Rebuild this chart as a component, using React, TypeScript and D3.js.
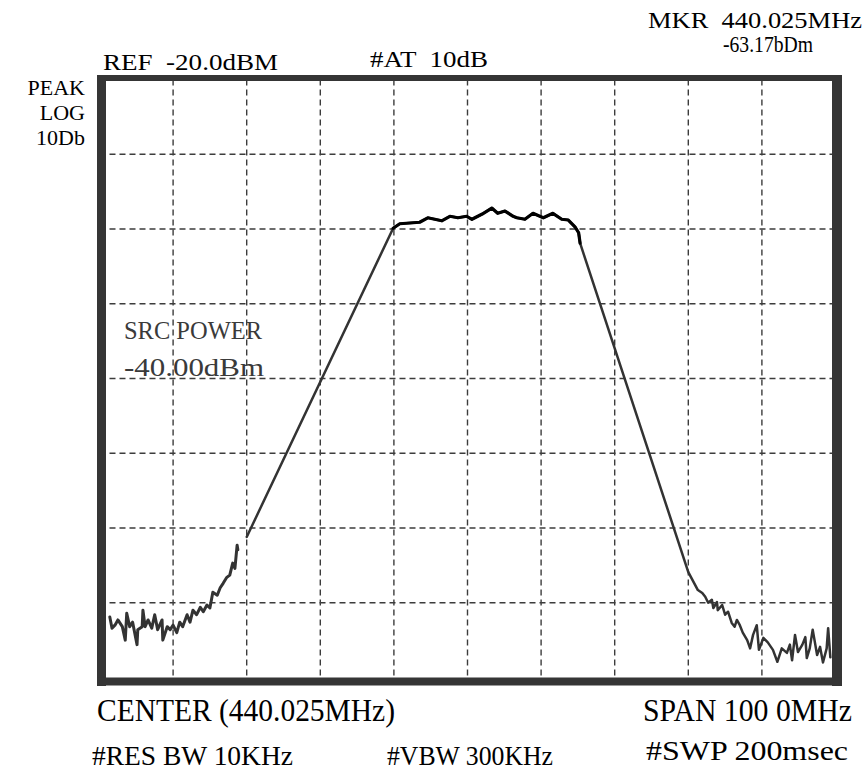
import React from "react";
import * as d3 from "d3";

// spectrum analyser screen: offset from centre (MHz) vs level (dBm)
const leftNoiseFreq = [-48.6, -48.3, -47.9, -47.5, -46.9, -46.5, -46.3, -45.9, -45.5, -44.9, -44.8, -44.2, -44.1, -43.8, -43.4, -42.9, -42.5, -42.1, -41.5, -41.4, -40.8, -40.4, -40.0, -39.5, -39.1, -38.7, -38.1, -37.7, -37.3, -36.8, -36.3, -35.9, -35.4, -35.0, -34.6, -34.0, -33.6, -33.2, -32.7, -32.3, -31.9, -31.6, -31.3, -31.2];
const leftNoiseLevel = [-91.9, -93.4, -93.0, -92.3, -93.2, -95.0, -91.4, -93.2, -92.6, -95.6, -93.6, -93.2, -91.0, -93.2, -92.3, -93.4, -91.6, -93.6, -92.3, -95.0, -93.2, -93.6, -93.0, -94.0, -92.6, -93.2, -91.6, -92.6, -91.0, -91.6, -90.6, -91.2, -90.3, -90.7, -88.6, -89.0, -88.0, -87.4, -86.6, -86.3, -84.7, -85.4, -82.3, -82.9];

const passFreq = [-30.0, -10.1, -9.2, -6.5, -5.4, -3.5, -2.4, -1.3, -0.1, 0.6, 2.0, 3.3, 4.1, 5.1, 6.2, 6.7, 7.8, 8.9, 10.3, 11.6, 12.8, 13.7, 14.6, 15.1, 15.3, 30.0, 31.3];
const passLevel = [-81.2, -39.9, -39.3, -39.1, -38.5, -38.9, -38.3, -38.5, -38.3, -38.7, -38.0, -37.2, -37.9, -37.6, -38.3, -38.5, -38.7, -37.9, -38.5, -37.9, -38.7, -38.8, -39.7, -40.5, -41.9, -85.9, -88.3];

const rightNoiseFreq = [31.9, 32.3, 32.7, 33.2, 33.4, 33.9, 34.0, 34.6, 35.0, 35.4, 35.9, 36.3, 36.6, 37.0, 37.4, 38.0, 38.4, 38.8, 39.3, 39.6, 40.2, 40.8, 41.5, 42.1, 42.7, 43.4, 43.8, 44.1, 44.5, 44.9, 45.5, 45.9, 46.1, 46.5, 46.9, 47.5, 47.9, 48.3, 48.8, 49.0, 49.3];
const rightNoiseLevel = [-88.7, -89.2, -90.0, -89.6, -90.7, -89.9, -91.0, -90.3, -91.6, -91.2, -92.7, -93.2, -92.3, -93.0, -94.0, -95.0, -96.1, -94.3, -93.0, -96.3, -94.7, -95.3, -96.3, -97.9, -96.1, -96.7, -95.6, -97.7, -94.3, -96.6, -95.6, -94.6, -97.4, -96.1, -93.6, -97.0, -95.9, -98.0, -96.1, -93.4, -97.3];

const freqGrid = [-40, -30, -20, -10, 0, 10, 20, 30, 40];
const levelGrid = [-90, -80, -70, -60, -50, -40, -30];

const W = 866;
const H = 771;

export default function App() {
  const x = d3.scaleLinear().domain([-50, 50]).range([99.5, 835.5]);
  const y = d3.scaleLinear().domain([-100, -20]).range([677.5, 79.5]);

  const line = d3
    .line<[number, number]>()
    .x(d => x(d[0]))
    .y(d => y(d[1]));

  const leftNoise = leftNoiseFreq.map((f, i) => [f, leftNoiseLevel[i]] as [number, number]);
  const pass = passFreq.map((f, i) => [f, passLevel[i]] as [number, number]);
  const rightNoise = rightNoiseFreq.map((f, i) => [f, rightNoiseLevel[i]] as [number, number]);
  const top = pass.slice(1, 25);

  const [x0, x1] = x.range();
  const [y1, y0] = y.range();
  const frame = "#353535";
  const serif = "'Liberation Serif', 'Times New Roman', serif";
  const fit = { lengthAdjust: "spacingAndGlyphs" as const };

  return (
    <svg width={W} height={H} style={{ position: "absolute", left: 0, top: 0, background: "#fff" }}>
      {/* grid */}
      <g stroke="#3c3c3c" strokeWidth={1.4} strokeDasharray="6 4">
        {freqGrid.map(f => (
          <line key={f} x1={x(f)} x2={x(f)} y1={y0} y2={y1} />
        ))}
        {levelGrid.map(l => (
          <line key={l} x1={x0} x2={x1} y1={y(l)} y2={y(l)} />
        ))}
      </g>

      {/* trace */}
      <g fill="none" strokeLinejoin="round" strokeLinecap="round">
        <path d={line(leftNoise) ?? ""} stroke="#333" strokeWidth={3} />
        <path d={line(pass.concat(rightNoise)) ?? ""} stroke="#333" strokeWidth={2.5} />
        <path d={line(top) ?? ""} stroke="#000" strokeWidth={3.2} />
      </g>

      {/* screen frame */}
      <g fill={frame}>
        <rect x={x0 - 2.5} y={y0 - 4.5} width={x1 - x0 + 7} height={6} />
        <rect x={x0 - 2.5} y={y0 - 4.5} width={9} height={y1 - y0 + 13} />
        <rect x={x1 - 3.5} y={y0 - 4.5} width={10} height={y1 - y0 + 13} />
        <rect x={x0 - 2.5} y={y1} width={x1 - x0 + 9} height={8} />
      </g>

      {/* header */}
      <g fontFamily={serif} fill="#000" fontSize={23}>
        <text x={648} y={28} textLength={214} {...fit} style={{ whiteSpace: "pre" }}>MKR  440.025MHz</text>
        <text x={723} y={52} textLength={90} {...fit}>-63.17bDm</text>
        <text x={103} y={70} textLength={175} {...fit} style={{ whiteSpace: "pre" }}>REF  -20.0dBM</text>
        <text x={370} y={67} textLength={118} {...fit} style={{ whiteSpace: "pre" }}>#AT  10dB</text>
        <g fontSize={22} textAnchor="end">
          <text x={85} y={95}>PEAK</text>
          <text x={85} y={120}>LOG</text>
          <text x={85} y={145}>10Db</text>
        </g>
      </g>

      {/* in-screen annotation */}
      <g fontFamily={serif} fill="#3a3a3a" fontSize={26}>
        <text x={124} y={339} textLength={138} {...fit}>SRC POWER</text>
        <text x={124} y={376} textLength={140} {...fit}>-40.00dBm</text>
      </g>

      {/* footer */}
      <g fontFamily={serif} fill="#000" fontSize={31}>
        <text x={97} y={721} textLength={298} {...fit} style={{ whiteSpace: "pre" }}>CENTER (440.025MHz)</text>
        <text x={643} y={721} textLength={209} {...fit}>SPAN 100 0MHz</text>
        <text x={92} y={765} fontSize={28} textLength={201} {...fit}>#RES BW 10KHz</text>
        <text x={387} y={765} fontSize={28} textLength={166} {...fit}>#VBW 300KHz</text>
        <text x={646} y={760} fontSize={28} textLength={202} {...fit}>#SWP 200msec</text>
      </g>
    </svg>
  );
}
